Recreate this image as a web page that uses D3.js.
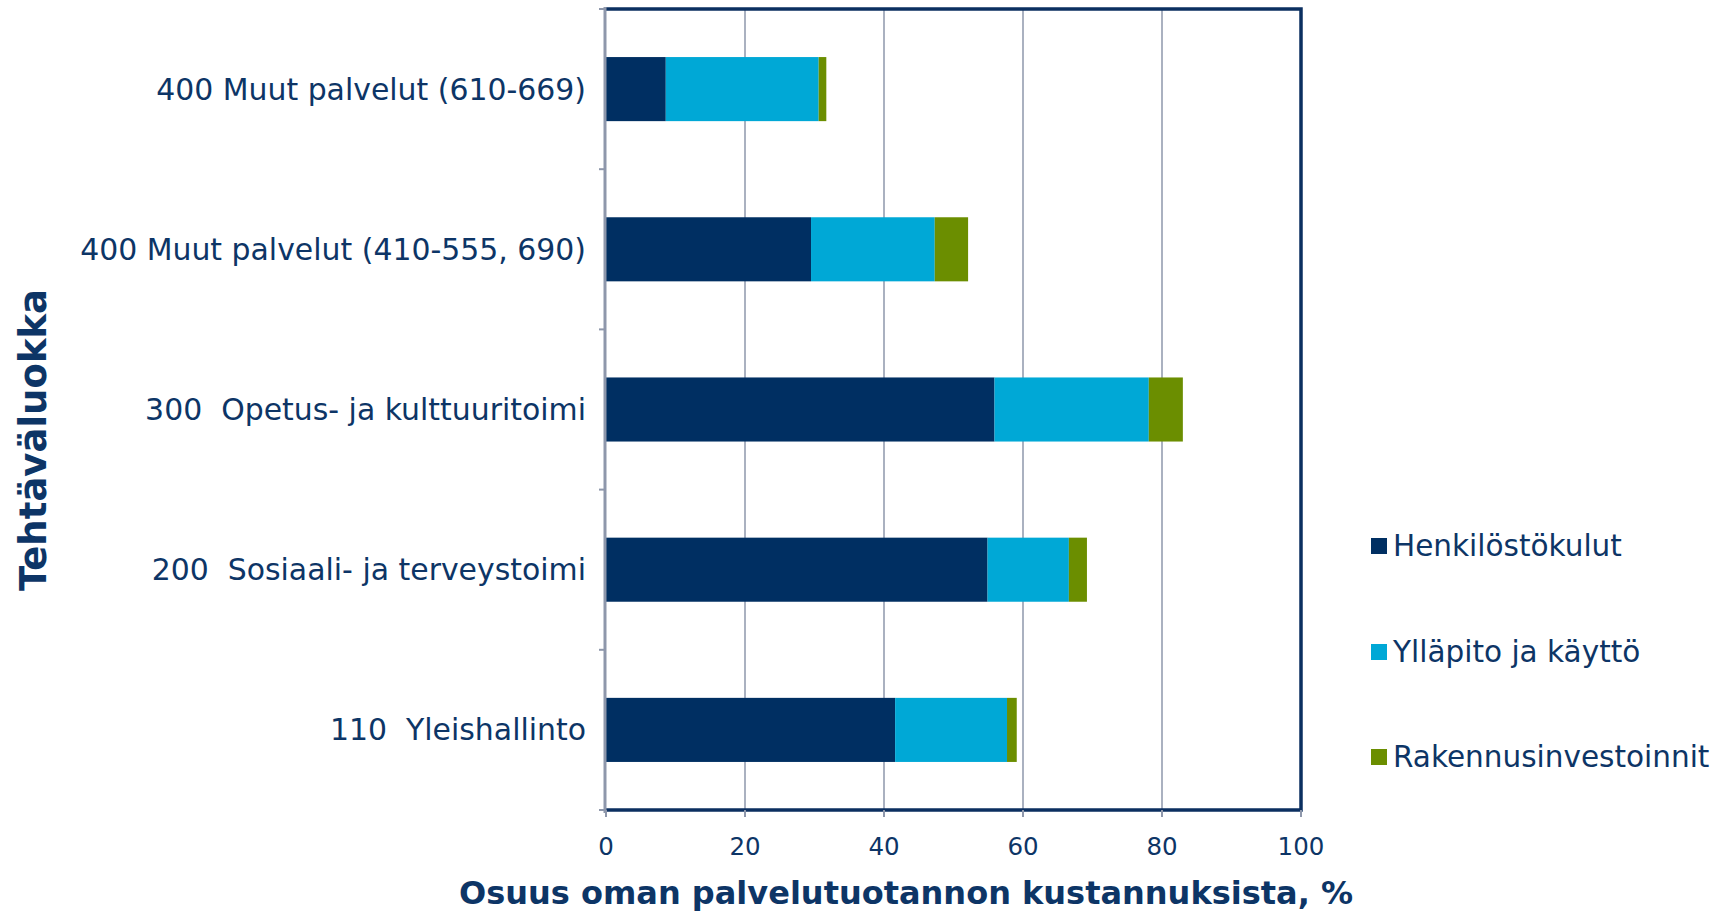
<!DOCTYPE html>
<html>
<head>
<meta charset="utf-8">
<script src="https://cdnjs.cloudflare.com/ajax/libs/d3/7.8.5/d3.min.js"></script>
<style>
body { margin: 0; background: #fff; }
text { font-family: "DejaVu Sans", Verdana, sans-serif; fill: #0d3566; white-space: pre; }
</style>
</head>
<body>
<div id="plot"></div>
<script>
var categories = [
	"400 Muut palvelut (610-669)",
	"400 Muut palvelut (410-555, 690)",
	"300  Opetus- ja kulttuuritoimi",
	"200  Sosiaali- ja terveystoimi",
	"110  Yleishallinto"
]
var seriesNames = ["Henkilöstökulut", "Ylläpito ja käyttö", "Rakennusinvestoinnit"]
var henkilosto = [8.6, 29.5, 55.9, 54.9, 41.6]
var yllapito = [22.0, 17.8, 22.2, 11.7, 16.1]
var rakennus = [1.1, 4.8, 4.9, 2.6, 1.4]
var xTicks = [0, 20, 40, 60, 80, 100]
var colors = ["#002f62", "#00a8d6", "#6b8e00"]

var width = 1723, height = 911
var mLeft = 606, mRight = 1301, mTop = 9, mBottom = 810

var rows = categories.map(function(c, i){
	return {cat: c, s0: henkilosto[i], s1: yllapito[i], s2: rakennus[i]}
})
var stack = d3.stack().keys(["s0", "s1", "s2"])(rows)

var svg = d3.select('#plot').append('svg')
	.attr('width', width)
	.attr('height', height)

var x = d3.scaleLinear().domain([0, 100]).range([mLeft, mRight])
var y = d3.scaleBand().domain(categories).range([mTop, mBottom]).paddingInner(0.6).paddingOuter(0.3)

// gridlines
svg.append('g').selectAll('line').data(xTicks.slice(1, -1)).enter().append('line')
	.attr('x1', function(d){ return x(d) }).attr('x2', function(d){ return x(d) })
	.attr('y1', mTop).attr('y2', mBottom)
	.attr('stroke', '#8e97ab').attr('stroke-width', 1.5)

// bars
svg.append('g').selectAll('g').data(stack).enter().append('g')
	.attr('fill', function(d, i){ return colors[i] })
	.selectAll('rect').data(function(d){ return d }).enter().append('rect')
	.attr('x', function(d){ return x(d[0]) })
	.attr('width', function(d){ return x(d[1]) - x(d[0]) })
	.attr('y', function(d){ return y(d.data.cat) })
	.attr('height', y.bandwidth())

// frame: top, right, bottom navy
svg.append('path')
	.attr('d', 'M' + mLeft + ',' + mTop + 'H' + mRight + 'V' + mBottom + 'H' + mLeft)
	.attr('fill', 'none').attr('stroke', '#0b2f60').attr('stroke-width', 3.5)

// left axis
var yEdges = d3.range(categories.length + 1).map(function(i){ return mTop + i * (mBottom - mTop) / categories.length })
svg.append('line').attr('x1', mLeft - 1).attr('x2', mLeft - 1).attr('y1', mTop - 2).attr('y2', mBottom + 3)
	.attr('stroke', '#8e97ab').attr('stroke-width', 3)
svg.append('g').selectAll('line').data(yEdges).enter().append('line')
	.attr('x1', mLeft - 7).attr('x2', mLeft).attr('y1', function(d){ return d }).attr('y2', function(d){ return d })
	.attr('stroke', '#8e97ab').attr('stroke-width', 2)

// bottom ticks
svg.append('g').selectAll('line').data(xTicks).enter().append('line')
	.attr('x1', function(d){ return x(d) }).attr('x2', function(d){ return x(d) })
	.attr('y1', mBottom).attr('y2', mBottom + 7)
	.attr('stroke', '#8e97ab').attr('stroke-width', 2)

// category labels
svg.append('g').selectAll('text').data(categories).enter().append('text')
	.attr('x', mLeft - 20)
	.attr('y', function(d){ return y(d) + y.bandwidth() / 2 })
	.attr('text-anchor', 'end').attr('dominant-baseline', 'central')
	.style('font-size', '29.9px')
	.text(function(d){ return d })

// x tick labels
svg.append('g').selectAll('text').data(xTicks).enter().append('text')
	.attr('x', function(d){ return x(d) })
	.attr('y', 846)
	.attr('text-anchor', 'middle').attr('dominant-baseline', 'central')
	.style('font-size', '24.5px')
	.text(function(d){ return d })

// axis titles
svg.append('text').attr('x', 906).attr('y', 893)
	.attr('text-anchor', 'middle').attr('dominant-baseline', 'central')
	.style('font-size', '32px').style('font-weight', 'bold')
	.text('Osuus oman palvelutuotannon kustannuksista, %')

svg.append('text').attr('transform', 'translate(33,440) rotate(-90)')
	.attr('text-anchor', 'middle').attr('dominant-baseline', 'central')
	.style('font-size', '37px').style('font-weight', 'bold')
	.text('Tehtäväluokka')

// legend
var legendY = [546, 652, 757]
var lg = svg.append('g').selectAll('g').data(seriesNames).enter().append('g')
	.attr('transform', function(d, i){ return 'translate(1371,' + legendY[i] + ')' })
lg.append('rect').attr('x', 0).attr('y', -8).attr('width', 16).attr('height', 16)
	.attr('fill', function(d, i){ return colors[i] })
lg.append('text').attr('x', 22).attr('y', 0)
	.attr('dominant-baseline', 'central')
	.style('font-size', '29.5px')
	.text(function(d){ return d })
</script>
</body>
</html>
